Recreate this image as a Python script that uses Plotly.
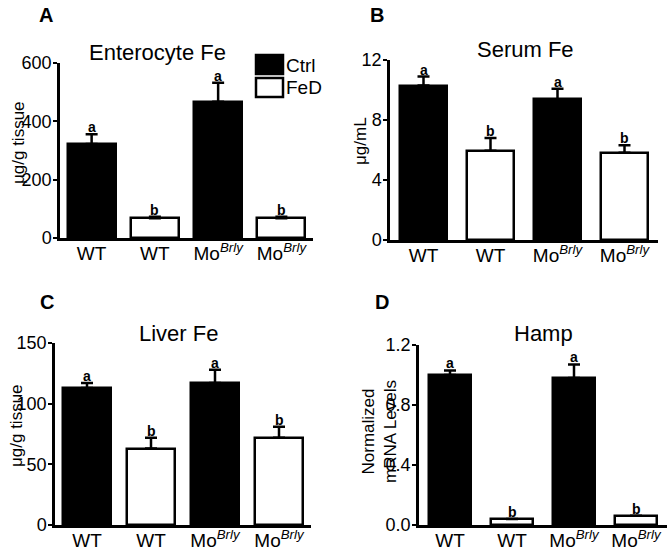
import plotly.graph_objects as go

W, H = 672, 553
FONT = "Liberation Sans, Arial, sans-serif"

groups = ["WT", "WT", "Mo<sup><i>Brly</i></sup>", "Mo<sup><i>Brly</i></sup>"]
ctrl_pos = [0, 2]
fed_pos = [1, 3]

# values: [WT Ctrl, WT FeD, Mo Ctrl, Mo FeD]
entero_fe = [322, 68, 467, 68]
entero_err = [34, 5, 65, 5]
entero_sig = ["a", "b", "a", "b"]

serum_fe = [10.3, 5.95, 9.38, 5.82]
serum_err = [0.6, 0.85, 0.7, 0.5]
serum_sig = ["a", "b", "a", "b"]

liver_fe = [113, 63, 117, 72]
liver_err = [4, 9, 11, 9]
liver_sig = ["a", "b", "a", "b"]

hamp = [1.0, 0.04, 0.98, 0.062]
hamp_err = [0.03, 0.0, 0.09, 0.0]
hamp_sig = ["a", "b", "a", "b"]

# panel layout in pixels: plot box (x0, x1, ytop, ybottom), title centre, y-title centre, letter pos
panels = [
    dict(key="", data=entero_fe, err=entero_err, sig=entero_sig, box=(60, 313, 63, 238),
         rng=[0, 600], dtick=200, fmt="d", title="Enterocyte Fe", tpos=(157, 52),
         ytitle="μg/g tissue", ypos=(19, 143), letter="A", lpos=(37, 15), bw=0.76),
    dict(key="2", data=serum_fe, err=serum_err, sig=serum_sig, box=(390, 658, 60, 240),
         rng=[0, 12], dtick=4, fmt="d", title="Serum Fe", tpos=(525, 50),
         ytitle="μg/mL", ypos=(360, 141), letter="B", lpos=(368, 15), bw=0.70),
    dict(key="3", data=liver_fe, err=liver_err, sig=liver_sig, box=(55, 311, 343, 525),
         rng=[0, 150], dtick=50, fmt="d", title="Liver Fe", tpos=(178, 333),
         ytitle="μg/g tissue", ypos=(16, 426), letter="C", lpos=(38, 302), bw=0.74),
    dict(key="4", data=hamp, err=hamp_err, sig=hamp_sig, box=(419, 667, 345, 525),
         rng=[0, 1.2], dtick=0.4, fmt=".1f", title="Hamp", tpos=(543, 333),
         ytitle="Normalized<br>mRNA Levels", ypos=(379, 432), letter="D", lpos=(373, 302),
         bw=0.68),
]

fig = go.Figure()
annotations = []
layout = {}

def px_x(v):
    return v / W

def px_y(v):
    return 1 - v / H

for p in panels:
    k = p["key"]
    x0, x1, yt, yb = p["box"]
    xa, ya = "x" + k, "y" + k
    for pos, color, name in [(ctrl_pos, "black", "Ctrl"), (fed_pos, "white", "FeD")]:
        fig.add_trace(go.Bar(
            x=pos, y=[p["data"][i] for i in pos],
            width=p["bw"], name=name, showlegend=False,
            marker=dict(color=color, line=dict(color="black", width=2.5)),
            error_y=dict(type="data", symmetric=False,
                         array=[p["err"][i] for i in pos],
                         arrayminus=[0 for _ in pos],
                         color="black", thickness=2.5, width=6),
            xaxis=xa, yaxis=ya,
        ))
    for i, s in enumerate(p["sig"]):
        annotations.append(dict(
            x=i, y=p["data"][i] + p["err"][i], xref=xa, yref=ya,
            text="<b>" + s + "</b>", showarrow=False, yanchor="bottom", yshift=-3,
            font=dict(size=14, family=FONT, color="black"),
        ))
    layout["xaxis" + k] = dict(
        domain=[px_x(x0), px_x(x1)], range=[-0.5, 3.5], anchor=ya, automargin=False,
        tickvals=[0, 1, 2, 3], ticktext=groups, ticks="", ticklabelstandoff=-4,
        showline=True, linecolor="black", linewidth=2.5,
        showgrid=False, zeroline=False,
        tickfont=dict(size=19, family=FONT, color="black"),
    )
    layout["yaxis" + k] = dict(
        domain=[px_y(yb), px_y(yt)], range=p["rng"], anchor=xa, automargin=False,
        dtick=p["dtick"], tickformat=p["fmt"],
        ticks="outside", ticklen=4, tickwidth=2, tickcolor="black",
        ticklabelstandoff=-2,
        showline=True, linecolor="black", linewidth=2.5,
        showgrid=False, zeroline=False,
        tickfont=dict(size=18, family=FONT, color="black"),
    )
    # panel title
    annotations.append(dict(
        x=px_x(p["tpos"][0]), y=px_y(p["tpos"][1]), xref="paper", yref="paper",
        text=p["title"], showarrow=False, xanchor="center", yanchor="middle",
        font=dict(size=22, family=FONT, color="black"),
    ))
    # y axis title
    annotations.append(dict(
        x=px_x(p["ypos"][0]), y=px_y(p["ypos"][1]), xref="paper", yref="paper",
        text=p["ytitle"], showarrow=False, xanchor="center", yanchor="middle",
        textangle=-90, font=dict(size=17, family=FONT, color="black"),
    ))
    # panel letter
    annotations.append(dict(
        x=px_x(p["lpos"][0]), y=px_y(p["lpos"][1]), xref="paper", yref="paper",
        text="<b>" + p["letter"] + "</b>", showarrow=False,
        xanchor="left", yanchor="middle",
        font=dict(size=20, family=FONT, color="black"),
    ))

# legend for panel A drawn as boxes with labels
shapes = []
legend_items = [("Ctrl", "black", 55), ("FeD", "white", 78)]
for name, color, top in legend_items:
    shapes.append(dict(type="rect", xref="paper", yref="paper",
                       x0=px_x(256), x1=px_x(283), y0=px_y(top + 19), y1=px_y(top),
                       fillcolor=color, line=dict(color="black", width=2.5)))
    annotations.append(dict(x=px_x(284), y=px_y(top + 10), xref="paper", yref="paper",
                            text=name, showarrow=False, xanchor="left", yanchor="middle",
                            font=dict(size=19, family=FONT, color="black")))

fig.update_layout(
    width=W, height=H,
    margin=dict(l=0, r=0, t=0, b=0),
    paper_bgcolor="white", plot_bgcolor="white",
    bargap=0, showlegend=False,
    annotations=annotations, shapes=shapes,
    font=dict(family=FONT, color="black"),
    **layout,
)

# page body has an 8px default margin; drop it so the figure fills the window
fig.write_html("out.html", config={"displayModeBar": False},
               post_script="document.body.style.margin = '0';")
